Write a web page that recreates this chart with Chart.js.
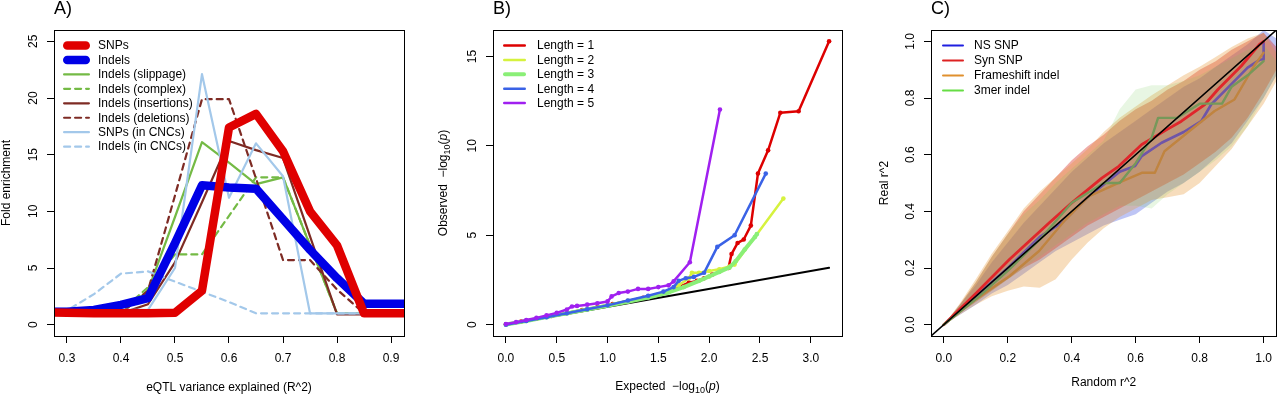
<!DOCTYPE html>
<html>
<head>
<meta charset="utf-8">
<script src="https://cdn.jsdelivr.net/npm/chart.js@4.4.1/dist/chart.umd.min.js"></script>
<style>
  html, body { margin: 0; padding: 0; background: #fff; }
  #wrap { position: relative; width: 1280px; height: 394px; overflow: hidden; }
  canvas { position: absolute; top: 0; }
</style>
</head>
<body>
<div id="wrap">
  <canvas id="chartA" width="430" height="394" style="left:0px"></canvas>
  <canvas id="chartB" width="430" height="394" style="left:430px"></canvas>
  <canvas id="chartC" width="420" height="394" style="left:860px"></canvas>
</div>
<script>
// ---------- panel A: fold enrichment by variance explained
const aX = [0.25, 0.3, 0.35, 0.4, 0.45, 0.5, 0.55, 0.6, 0.65, 0.7, 0.75, 0.8, 0.85, 0.9, 0.95];
const aSNPs       = [1.1, 1.05, 1.0, 1.0, 1.0, 1.05, 3.0, 17.4, 18.6, 15.3, 10.0, 7.0, 1.0, 1.0, 1.0];
const aIndels     = [1.15, 1.15, 1.3, 1.75, 2.35, 7.2, 12.3, 12.1, 12.0, 9.3, 6.6, 4.1, 1.85, 1.85, 1.85];
const aSlippage   = [1, 1, 1, 1, 3.0, 9.5, 16.1, 14.3, 12.4, 13.0, 7.0, 1.0, 1.0, 1.0, 1.0];
const aComplex    = [1, 1, 1, 1.2, 3.3, 6.2, 6.2, 9.6, 13.0, 13.0, 7.0, 1.0, 1.0, 1.0, 1.0];
const aInsertions = [1, 1, 1, 1, 1.8, 5.5, 10.8, 16.2, 15.4, 14.7, 7.8, 0.9, 0.9, 0.9, 0.9];
const aDeletions  = [1, 1, 1, 1, 3.0, 11.4, 19.9, 19.9, 12.9, 5.7, 5.7, 3.1, 1.0, 1.0, 1.0];
const aSnpsCnc    = [1.4, 1.4, 1.3, 1.3, 1.3, 5.0, 22.1, 11.2, 16.0, 13.1, 1.0, 1.0, 1.0, 1.0, 1.0];
const aIndelsCnc  = [0.45, 1.25, 2.7, 4.5, 4.7, 3.8, 2.9, 2.0, 1.0, 1.0, 1.0, 1.0, 1.0, 1.0, 1.0];
const aXTicks = [0.3, 0.4, 0.5, 0.6, 0.7, 0.8, 0.9];
const aYTicks = [0, 5, 10, 15, 20, 25];

// ---------- panel B: QQ plot by indel length
const b1X = [0, 0.15, 0.3, 0.45, 0.6, 0.75, 0.9, 1.05, 1.2, 1.35, 1.5, 1.6, 1.7, 1.8, 1.88, 1.95, 2.03, 2.11, 2.19, 2.22, 2.28, 2.34, 2.41, 2.48, 2.58, 2.70, 2.88, 3.18];
const b1Y = [0.02, 0.17, 0.33, 0.49, 0.65, 0.82, 0.98, 1.15, 1.32, 1.5, 1.68, 1.85, 2.1, 2.35, 2.45, 2.6, 2.8, 3.0, 3.17, 3.95, 4.57, 4.76, 5.54, 8.45, 9.75, 11.85, 11.94, 15.85];
const b2X = [0, 0.2, 0.4, 0.6, 0.8, 1.0, 1.2, 1.4, 1.55, 1.7, 1.8, 1.83, 1.9, 2.0, 2.1, 2.2, 2.25, 2.73];
const b2Y = [0.01, 0.22, 0.44, 0.66, 0.88, 1.1, 1.33, 1.58, 1.8, 2.2, 2.6, 2.9, 2.9, 3.0, 3.1, 3.25, 3.36, 7.05];
const b3X = [0, 0.2, 0.4, 0.6, 0.8, 1.0, 1.2, 1.4, 1.6, 1.75, 1.9, 2.0, 2.1, 2.2, 2.26, 2.35, 2.45, 2.47];
const b3Y = [0.01, 0.21, 0.42, 0.63, 0.85, 1.06, 1.28, 1.52, 1.8, 2.1, 2.45, 2.7, 2.95, 3.2, 3.54, 4.2, 4.9, 5.07];
const b4X = [0, 0.2, 0.4, 0.6, 0.8, 1.0, 1.2, 1.4, 1.55, 1.65, 1.7, 1.77, 1.85, 1.95, 2.08, 2.25, 2.557];
const b4Y = [0, 0.21, 0.42, 0.64, 0.86, 1.08, 1.35, 1.62, 1.85, 2.1, 2.45, 2.6, 2.67, 2.9, 4.35, 5.0, 8.45];
const b5X = [0, 0.1, 0.2, 0.3, 0.4, 0.5, 0.6, 0.65, 0.7, 0.8, 0.9, 1.0, 1.04, 1.11, 1.2, 1.3, 1.4, 1.5, 1.6, 1.65, 1.81, 2.106];
const b5Y = [0.04, 0.14, 0.26, 0.38, 0.52, 0.66, 0.85, 1.02, 1.05, 1.12, 1.2, 1.3, 1.58, 1.77, 1.85, 2.0, 2.0, 2.1, 2.2, 2.42, 3.49, 12.03];
const bRefX = [0, 3.18];
const bRefY = [0, 3.18];
const bXTicks = [0, 0.5, 1.0, 1.5, 2.0, 2.5, 3.0];
const bYTicks = [0, 5, 10, 15];

// ---------- panel C: real vs random r^2 with bands
const cBandX = [0, 0.05, 0.1, 0.15, 0.2, 0.25, 0.3, 0.35, 0.4, 0.45, 0.5, 0.55, 0.6, 0.65, 0.7, 0.75, 0.8, 0.85, 0.9, 0.95, 1.0, 1.04];
const cNsLo  = [0, 0.035, 0.07, 0.11, 0.14, 0.18, 0.22, 0.26, 0.29, 0.32, 0.35, 0.37, 0.39, 0.43, 0.47, 0.5, 0.54, 0.59, 0.64, 0.72, 0.8, 0.88];
const cNsHi  = [0, 0.07, 0.14, 0.22, 0.29, 0.36, 0.42, 0.48, 0.54, 0.59, 0.64, 0.68, 0.72, 0.76, 0.8, 0.84, 0.87, 0.91, 0.95, 0.99, 1.04, 1.01];
const cSynLo = [0, 0.04, 0.08, 0.12, 0.16, 0.2, 0.23, 0.27, 0.31, 0.35, 0.38, 0.41, 0.44, 0.47, 0.5, 0.53, 0.57, 0.61, 0.66, 0.73, 0.82, 0.9];
const cSynHi = [0, 0.07, 0.15, 0.24, 0.32, 0.4, 0.46, 0.52, 0.58, 0.63, 0.67, 0.72, 0.76, 0.79, 0.83, 0.86, 0.9, 0.93, 0.97, 1.0, 1.03, 0.98];
const cFsLo  = [0, 0.035, 0.07, 0.1, 0.12, 0.135, 0.13, 0.16, 0.23, 0.29, 0.34, 0.38, 0.41, 0.44, 0.45, 0.46, 0.5, 0.56, 0.62, 0.7, 0.78, 0.86];
const cFsHi  = [0, 0.075, 0.16, 0.25, 0.33, 0.41, 0.47, 0.52, 0.57, 0.62, 0.68, 0.73, 0.77, 0.81, 0.845, 0.88, 0.91, 0.945, 0.98, 1.01, 1.03, 0.96];
const cMerLo = [0, 0.04, 0.08, 0.12, 0.16, 0.2, 0.24, 0.28, 0.32, 0.36, 0.39, 0.42, 0.42, 0.41, 0.46, 0.5, 0.54, 0.58, 0.63, 0.7, 0.8, 0.88];
const cMerHi = [0, 0.07, 0.15, 0.24, 0.32, 0.39, 0.44, 0.5, 0.55, 0.6, 0.65, 0.76, 0.83, 0.845, 0.845, 0.86, 0.88, 0.91, 0.94, 0.97, 0.99, 0.93];
const cNsX  = [0, 0.1, 0.2, 0.3, 0.37, 0.45, 0.55, 0.598, 0.619, 0.681, 0.75, 0.805, 0.836, 0.9, 0.95, 0.99, 1.0, 1.0];
const cNsY  = [0, 0.1, 0.2, 0.31, 0.36, 0.45, 0.54, 0.56, 0.595, 0.642, 0.68, 0.718, 0.777, 0.85, 0.907, 0.936, 0.936, 0.995];
const cSynX = [0, 0.1, 0.205, 0.329, 0.4, 0.495, 0.547, 0.619, 0.7, 0.743, 0.816, 0.857, 0.93, 0.987, 1.0];
const cSynY = [0, 0.11, 0.23, 0.359, 0.43, 0.518, 0.559, 0.636, 0.69, 0.718, 0.777, 0.83, 0.913, 0.989, 1.0];
const cFsX  = [0, 0.1, 0.205, 0.298, 0.38, 0.453, 0.557, 0.619, 0.66, 0.69, 0.774, 0.847, 0.909, 0.97, 1.0];
const cFsY  = [0, 0.09, 0.171, 0.26, 0.37, 0.453, 0.506, 0.536, 0.536, 0.612, 0.689, 0.754, 0.795, 0.913, 0.96];
const cMerX = [0, 0.1, 0.2, 0.3, 0.4, 0.5, 0.55, 0.6, 0.65, 0.67, 0.73, 0.8, 0.87, 0.9, 0.95, 1.0];
const cMerY = [0, 0.09, 0.19, 0.3, 0.43, 0.5, 0.5, 0.57, 0.66, 0.73, 0.73, 0.78, 0.78, 0.84, 0.88, 0.93];
const cDiagX = [-0.1, 1.1];
const cDiagY = [-0.1, 1.1];
const cTicks = [0, 0.2, 0.4, 0.6, 0.8, 1.0];

const FAM = "'Liberation Sans', Arial, Helvetica, sans-serif";
Chart.defaults.font.family = FAM;
Chart.defaults.font.size = 12;
Chart.defaults.color = '#000';

function pts(xs, ys) {
    return xs.map((x, i) => ({ x: x, y: ys[i] }));
}

function line(label, xs, ys, color, width, extra) {
    return Object.assign({
        label: label,
        data: pts(xs, ys),
        borderColor: color,
        backgroundColor: color,
        borderWidth: width,
        pointRadius: 0,
        fill: false,
        clip: 0,
        tension: 0,
        borderCapStyle: 'round',
        borderJoinStyle: 'round',
    }, extra || {});
}

function band(xs, lo, hi, color, order) {
    let base = { label: '', borderColor: 'rgba(0,0,0,0)', borderWidth: 0, pointRadius: 0, clip: 0, order: order };
    return [
        Object.assign({}, base, { data: pts(xs, lo), fill: false }),
        Object.assign({}, base, { data: pts(xs, hi), fill: '-1', backgroundColor: color }),
    ];
}

function axes(xr, yr, xt, yt, xDigits, yLeft) {
    return {
        x: {
            type: 'linear', min: xr[0], max: xr[1],
            afterBuildTicks: s => { s.ticks = xt.map(v => ({ value: v })); },
            afterFit: s => { s.height = 58; },
            border: { display: false },
            grid: { drawOnChartArea: false, tickLength: 7, color: '#000', lineWidth: 1 },
            ticks: { padding: 8, maxRotation: 0, autoSkip: false, color: '#000', font: { size: 12 },
                     callback: v => v.toFixed(xDigits) },
        },
        y: {
            type: 'linear', min: yr[0], max: yr[1],
            afterBuildTicks: s => { s.ticks = yt.map(v => ({ value: v })); },
            afterFit: s => { s.width = yLeft; },
            border: { display: false },
            grid: { drawOnChartArea: false, tickLength: 7, color: '#000', lineWidth: 1 },
            ticks: { display: false },
        },
    };
}

// text with optional subscript / italic pieces, centred on (x, y)
function drawRich(ctx, parts, x, y, vertical) {
    ctx.save();
    ctx.translate(x, y);
    if (vertical) ctx.rotate(-Math.PI / 2);
    ctx.textAlign = 'left';
    ctx.textBaseline = 'alphabetic';
    const fontOf = p => (p.it ? 'italic ' : '') + (p.sub ? 9 : 12) + 'px ' + FAM;
    let w = 0;
    parts.forEach(p => { ctx.font = fontOf(p); w += ctx.measureText(p.t).width; });
    let cx = -w / 2;
    parts.forEach(p => {
        ctx.font = fontOf(p);
        ctx.fillText(p.t, cx, p.sub ? 3 : 0);
        cx += ctx.measureText(p.t).width;
    });
    ctx.restore();
}

// R style frame: box, rotated y labels, titles, panel tag, legend
function makeFrame(cfg) {
    return {
        id: 'rFrame',
        afterDraw(chart) {
            const ctx = chart.ctx, a = chart.chartArea;
            const al = v => Math.round(v - 0.5) + 0.5;
            ctx.save();
            ctx.strokeStyle = '#000';
            ctx.lineWidth = 1;
            ctx.strokeRect(al(a.left), al(a.top), al(a.right) - al(a.left), al(a.bottom) - al(a.top));

            ctx.fillStyle = '#000';
            ctx.font = '12px ' + FAM;
            ctx.textAlign = 'center';
            ctx.textBaseline = 'alphabetic';
            const ys = chart.scales.y;
            ys.ticks.forEach(t => {
                ctx.save();
                ctx.translate(a.left - 17, ys.getPixelForValue(t.value));
                ctx.rotate(-Math.PI / 2);
                ctx.fillText(t.value.toFixed(cfg.yDigits), 0, 0);
                ctx.restore();
            });

            drawRich(ctx, cfg.xTitle, (a.left + a.right) / 2, cfg.xTitleY, false);
            drawRich(ctx, cfg.yTitle, cfg.yTitleX, (a.top + a.bottom) / 2, true);

            ctx.font = '18px ' + FAM;
            ctx.textAlign = 'left';
            ctx.fillText(cfg.tag, a.left, 14);

            const lg = cfg.legend;
            lg.items.forEach((it, i) => {
                const ds = chart.data.datasets[it.ds];
                const y = lg.y + i * lg.step;
                const w = it.width || ds.borderWidth;
                ctx.save();
                ctx.strokeStyle = it.color || ds.borderColor;
                ctx.lineWidth = w;
                ctx.lineCap = 'round';
                ctx.setLineDash(ds.borderDash || []);
                ctx.beginPath();
                ctx.moveTo(lg.x + w / 2, y);
                ctx.lineTo(lg.x + lg.len - w / 2, y);
                ctx.stroke();
                ctx.restore();
                ctx.font = '12px ' + FAM;
                ctx.textAlign = 'left';
                ctx.textBaseline = 'middle';
                ctx.fillText(ds.label, lg.x + lg.len + lg.gap, y + 0.5);
            });
            ctx.restore();
        },
    };
}

const baseOptions = {
    responsive: false,
    animation: false,
    devicePixelRatio: 1,
    events: [],
};

// ---------- chart A
const RED = '#e00000', BLUE = '#0000e6', GREEN = '#74ba45', BROWN = '#7e2b24', SKY = '#a3c8ea';
const DASH = [6, 5];
new Chart(document.getElementById('chartA'), {
    type: 'line',
    data: {
        datasets: [
            line('SNPs', aX, aSNPs, RED, 8.5, { order: 0 }),
            line('Indels', aX, aIndels, BLUE, 8.5, { order: 1 }),
            line('Indels (slippage)', aX, aSlippage, GREEN, 2.2, { order: 8 }),
            line('Indels (complex)', aX, aComplex, GREEN, 2.2, { order: 7, borderDash: DASH }),
            line('Indels (insertions)', aX, aInsertions, BROWN, 2.2, { order: 6 }),
            line('Indels (deletions)', aX, aDeletions, BROWN, 2.2, { order: 5, borderDash: DASH }),
            line('SNPs (in CNCs)', aX, aSnpsCnc, SKY, 2.2, { order: 4 }),
            line('Indels (in CNCs)', aX, aIndelsCnc, SKY, 2.2, { order: 3, borderDash: DASH }),
        ],
    },
    options: Object.assign({}, baseOptions, {
        layout: { padding: { left: 0, right: 26, top: 30, bottom: 0 } },
        plugins: { legend: { display: false }, tooltip: { enabled: false } },
        scales: axes([0.276, 0.924], [-1, 26], aXTicks, aYTicks, 1, 54),
    }),
    plugins: [makeFrame({
        tag: 'A)', yDigits: 0,
        xTitle: [{ t: 'eQTL variance explained (R^2)' }], xTitleY: 391,
        yTitle: [{ t: 'Fold enrichment' }], yTitleX: 10,
        legend: { x: 63, y: 45.5, step: 14.45, len: 27, gap: 8,
                  items: [{ ds: 0 }, { ds: 1 }, { ds: 2 }, { ds: 3 }, { ds: 4 }, { ds: 5 }, { ds: 6 }, { ds: 7 }] },
    })],
});

// ---------- chart B
const B1 = '#dd0000', B2 = '#d6f23e', B3 = '#8aef77', B4 = '#3a62e6', B5 = '#a020f0';
const dots = c => ({ pointRadius: 2.3, pointBorderWidth: 0, pointBackgroundColor: c });
new Chart(document.getElementById('chartB'), {
    type: 'line',
    data: {
        datasets: [
            line('Length = 1', b1X, b1Y, B1, 2.5, Object.assign({ order: 5 }, dots(B1))),
            line('Length = 2', b2X, b2Y, B2, 2.5, Object.assign({ order: 4 }, dots(B2))),
            line('Length = 3', b3X, b3Y, B3, 4, Object.assign({ order: 3 }, dots(B3))),
            line('Length = 4', b4X, b4Y, B4, 2.5, Object.assign({ order: 2 }, dots(B4))),
            line('Length = 5', b5X, b5Y, B5, 2.5, Object.assign({ order: 1 }, dots(B5))),
            line('', bRefX, bRefY, '#000', 2, { order: 6 }),
        ],
    },
    options: Object.assign({}, baseOptions, {
        layout: { padding: { left: 0, right: 18, top: 30, bottom: 0 } },
        plugins: { legend: { display: false }, tooltip: { enabled: false } },
        scales: axes([-0.127, 3.307], [-0.634, 16.48], bXTicks, bYTicks, 1, 63),
    }),
    plugins: [makeFrame({
        tag: 'B)', yDigits: 0,
        xTitle: [{ t: 'Expected  \u2212log' }, { t: '10', sub: 1 }, { t: '(' }, { t: 'p', it: 1 }, { t: ')' }], xTitleY: 390,
        yTitle: [{ t: 'Observed  \u2212log' }, { t: '10', sub: 1 }, { t: '(' }, { t: 'p', it: 1 }, { t: ')' }], yTitleX: 17,
        legend: { x: 73, y: 45.5, step: 14.4, len: 23, gap: 11,
                  items: [{ ds: 0 }, { ds: 1 }, { ds: 2 }, { ds: 3 }, { ds: 4 }] },
    })],
});

// ---------- chart C
new Chart(document.getElementById('chartC'), {
    type: 'line',
    data: {
        datasets: [
            line('NS SNP', cNsX, cNsY, '#6f55a8', 2.6, { order: 4 }),
            line('Syn SNP', cSynX, cSynY, '#e0262b', 2.8, { order: 3 }),
            line('Frameshift indel', cFsX, cFsY, '#c08440', 2.4, { order: 2 }),
            line('3mer indel', cMerX, cMerY, '#76985a', 2.4, { order: 1 }),
            line('', cDiagX, cDiagY, '#000', 1.6, { order: 0 }),
        ].concat(
            band(cBandX, cNsLo, cNsHi, 'rgba(70,90,225,0.35)', 13),
            band(cBandX, cSynLo, cSynHi, 'rgba(215,50,40,0.4)', 12),
            band(cBandX, cFsLo, cFsHi, 'rgba(230,150,50,0.32)', 11),
            band(cBandX, cMerLo, cMerHi, 'rgba(110,200,80,0.16)', 10)
        ),
    },
    options: Object.assign({}, baseOptions, {
        layout: { padding: { left: 0, right: 1, top: 30, bottom: 0 } },
        plugins: { legend: { display: false }, tooltip: { enabled: false } },
        scales: axes([-0.04, 1.04], [-0.04, 1.04], cTicks, cTicks, 1, 71),
    }),
    plugins: [makeFrame({
        tag: 'C)', yDigits: 1,
        xTitle: [{ t: 'Random r^2' }], xTitleY: 386,
        yTitle: [{ t: 'Real r^2' }], yTitleX: 28,
        legend: { x: 82, y: 45.5, step: 15, len: 22, gap: 10,
                  items: [{ ds: 0, color: '#1f1fe0', width: 2 }, { ds: 1, color: '#dd2222', width: 2 },
                          { ds: 2, color: '#e0902e', width: 2 }, { ds: 3, color: '#66dd44', width: 2 }] },
    })],
});
</script>
</body>
</html>
